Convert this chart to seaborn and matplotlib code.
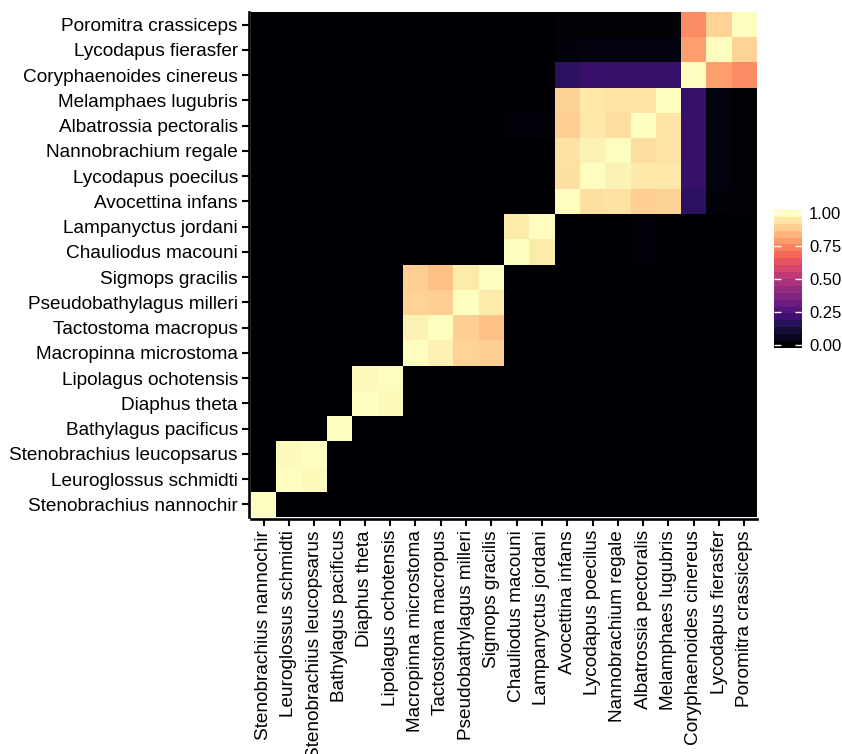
import matplotlib
matplotlib.use("Agg")
import matplotlib.pyplot as plt
from matplotlib.ticker import StrMethodFormatter
import numpy as np
import pandas as pd
import seaborn as sns

# Species in plotting order (left-to-right on x, bottom-to-top on y)
species = [
    "Stenobrachius nannochir", "Leuroglossus schmidti", "Stenobrachius leucopsarus",
    "Bathylagus pacificus", "Diaphus theta", "Lipolagus ochotensis",
    "Macropinna microstoma", "Tactostoma macropus", "Pseudobathylagus milleri",
    "Sigmops gracilis", "Chauliodus macouni", "Lampanyctus jordani",
    "Avocettina infans", "Lycodapus poecilus", "Nannobrachium regale",
    "Albatrossia pectoralis", "Melamphaes lugubris", "Coryphaenoides cinereus",
    "Lycodapus fierasfer", "Poromitra crassiceps",
]

# Pairwise similarity, rows/columns in the same order as `species`
similarity = [
    [1, 0, 0, 0, 0, 0, 0, 0, 0, 0, 0, 0, 0, 0, 0, 0, 0, 0, 0, 0],
    [0, 1, .99, 0, 0, 0, 0, 0, 0, 0, 0, 0, 0, 0, 0, 0, 0, 0, 0, 0],
    [0, .99, 1, 0, 0, 0, 0, 0, 0, 0, 0, 0, 0, 0, 0, 0, 0, 0, 0, 0],
    [0, 0, 0, 1, 0, 0, 0, 0, 0, 0, 0, 0, 0, 0, 0, 0, 0, 0, 0, 0],
    [0, 0, 0, 0, 1, .99, 0, 0, 0, 0, 0, 0, 0, 0, 0, 0, 0, 0, 0, 0],
    [0, 0, 0, 0, .99, 1, 0, 0, 0, 0, 0, 0, 0, 0, 0, 0, 0, 0, 0, 0],
    [0, 0, 0, 0, 0, 0, 1, .97, .91, .90, 0, 0, 0, 0, 0, 0, 0, 0, 0, 0],
    [0, 0, 0, 0, 0, 0, .97, 1, .90, .87, 0, 0, 0, 0, 0, 0, 0, 0, 0, 0],
    [0, 0, 0, 0, 0, 0, .91, .90, 1, .96, 0, 0, 0, 0, 0, 0, 0, 0, 0, 0],
    [0, 0, 0, 0, 0, 0, .90, .87, .96, 1, .005, .005, 0, 0, 0, 0, 0, 0, 0, 0],
    [0, 0, 0, 0, 0, 0, 0, 0, 0, .005, 1, .96, 0, 0, 0, .02, 0, 0, 0, 0],
    [0, 0, 0, 0, 0, 0, 0, 0, 0, .005, .96, 1, 0, 0, 0, .02, 0, 0, 0, 0],
    [0, 0, 0, 0, 0, 0, 0, 0, 0, 0, 0, 0, 1, .935, .94, .90, .905, .17, .02, .01],
    [0, 0, 0, 0, 0, 0, 0, 0, 0, 0, 0, 0, .935, 1, .975, .95, .95, .19, .03, .01],
    [0, 0, 0, 0, 0, 0, 0, 0, 0, 0, 0, 0, .94, .975, 1, .93, .945, .19, .03, .01],
    [0, 0, 0, 0, 0, 0, 0, 0, 0, 0, .02, .02, .90, .95, .93, 1, .945, .19, .03, .01],
    [0, 0, 0, 0, 0, 0, 0, 0, 0, 0, 0, 0, .905, .95, .945, .945, 1, .19, .03, .01],
    [0, 0, 0, 0, 0, 0, 0, 0, 0, 0, 0, 0, .17, .19, .19, .19, .19, 1, .80, .76],
    [0, 0, 0, 0, 0, 0, 0, 0, 0, 0, 0, 0, .02, .03, .03, .03, .03, .80, 1, .91],
    [0, 0, 0, 0, 0, 0, 0, 0, 0, 0, 0, 0, .01, .01, .01, .01, .01, .76, .91, 1],
]

colorbar_ticks = [0.0, 0.25, 0.50, 0.75, 1.0]
colorbar_bins = 20

sns.set_style("ticks")
plt.rcParams["font.family"] = ["Liberation Sans", "DejaVu Sans"]

df = pd.DataFrame(similarity, index=species, columns=species)
# first species at the bottom of the y axis
df = df.iloc[::-1]

fig = plt.figure(figsize=(8.42, 7.54), dpi=100)
ax = fig.add_axes([0.2981, 0.3143, 0.6010, 0.6698])
cax = fig.add_axes([0.9192, 0.5385, 0.0333, 0.1830])

sns.heatmap(df, cmap="magma", vmin=0, vmax=1, ax=ax, cbar_ax=cax,
            cbar_kws={"ticks": colorbar_ticks}, linewidths=0)

# Spines first: repositioning a spine rebuilds the axis ticks
for side in ("left", "bottom"):
    ax.spines[side].set_visible(True)
    ax.spines[side].set_linewidth(1.9)
    ax.spines[side].set_color("black")
    ax.spines[side].set_position(("outward", 1.5))
for side in ("top", "right"):
    ax.spines[side].set_visible(False)

ax.set_xlabel("")
ax.set_ylabel("")
ax.set_xticklabels(species)
ax.set_yticklabels(df.index)
ax.tick_params(axis="both", which="major", direction="out", length=5,
               width=1.5, color="black", pad=3, bottom=True, left=True,
               labelsize=13.7, labelcolor="black")
ax.tick_params(axis="x", labelrotation=90)
ax.tick_params(axis="y", labelrotation=0)

# Colour bar drawn as a stack of discrete bins, end ticks at bin centres
cbar = ax.collections[0].colorbar
cbar.outline.set_visible(False)
cbar.solids.set_visible(False)
levels = np.linspace(0, 1, colorbar_bins)
half = (levels[1] - levels[0]) / 2
edges = np.concatenate([[levels[0] - half], (levels[:-1] + levels[1:]) / 2,
                        [levels[-1] + half]])
cbar.ax.pcolormesh([0, 1], edges, levels[:, None], cmap="magma",
                   vmin=0, vmax=1, zorder=1)
cbar.ax.set_ylim(edges[0], edges[-1])
cbar.ax.set_xlim(0, 1)
cbar.ax.set_axisbelow(False)
cbar.ax.yaxis.set_major_formatter(StrMethodFormatter("{x:.2f}"))
cbar.ax.tick_params(direction="in", length=5, width=1, color="white",
                    left=True, right=True, labelleft=False, labelright=True,
                    labelcolor="black", labelsize=12, pad=5)

fig.savefig("out.png", dpi=100)
